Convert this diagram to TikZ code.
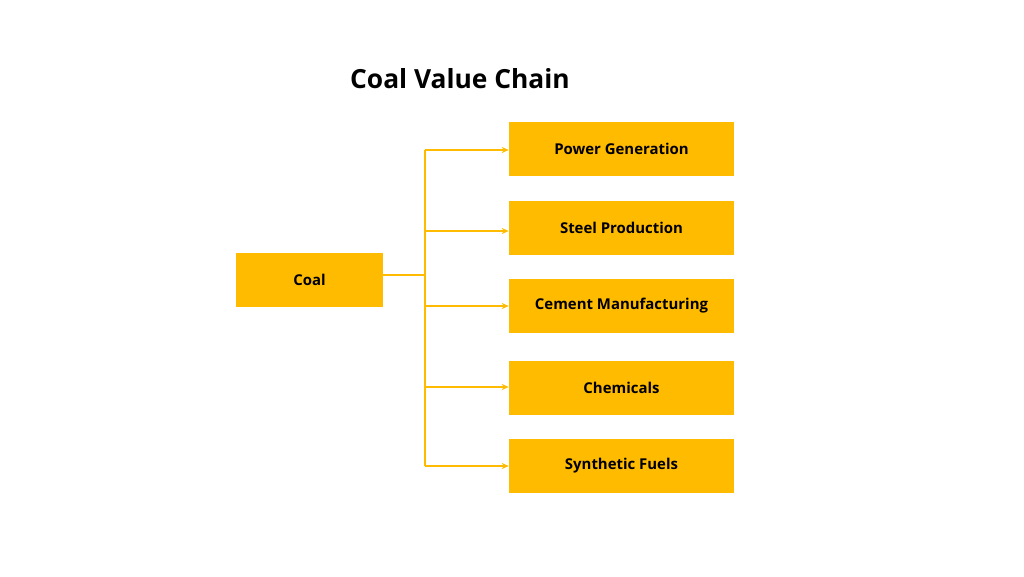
\documentclass[tikz,border=0pt]{standalone}
\usepackage{fontspec}
\setmainfont{Open Sans}
\usetikzlibrary{arrows.meta, positioning}

\definecolor{coalyellow}{HTML}{FFBB00}

\tikzset{
	branch/.style={fill=coalyellow, minimum width=4.5cm, minimum height=1.08cm, font=\bfseries\fontsize{8.5}{10}\selectfont},
	link/.style={draw=coalyellow, line width=0.6pt},
}

\begin{document}
\begin{tikzpicture}[x=0.02cm, y=-0.02cm]
	\useasboundingbox (0,0) rectangle (1024,576);

	\node[font=\bfseries\fontsize{15}{18}\selectfont] 	(T)	at (460,79)		{Coal Value Chain};
	\node[branch, minimum width=2.94cm] 			(C)	at (309.5,280)	{Coal};
	\node[branch] 	(P)	at (621.5,149)	{Power Generation};
	\node[branch] 	(S)	at (621.5,228)	{Steel Production};
	\node[branch] 	(M)	at (621.5,306)	{Cement Manufacturing};
	\node[branch] 	(H)	at (621.5,388)	{Chemicals};
	\node[branch] 	(F)	at (621.5,466)	{Synthetic Fuels};

	\coordinate (J)   at (425,275);
	\coordinate (Top) at (425,150);
	\coordinate (Bot) at (425,466);

	\draw[link] (C.east |- J) -- (J);
	\draw[link] (Top) -- (Bot);
	\foreach \y/\n in {150/P, 231/S, 306/M, 387/H, 466/F}
		\draw[link, -{Stealth[length=4pt, width=3.5pt]}] (425,\y) -- (\n.west |- 0,\y);
\end{tikzpicture}
\end{document}
